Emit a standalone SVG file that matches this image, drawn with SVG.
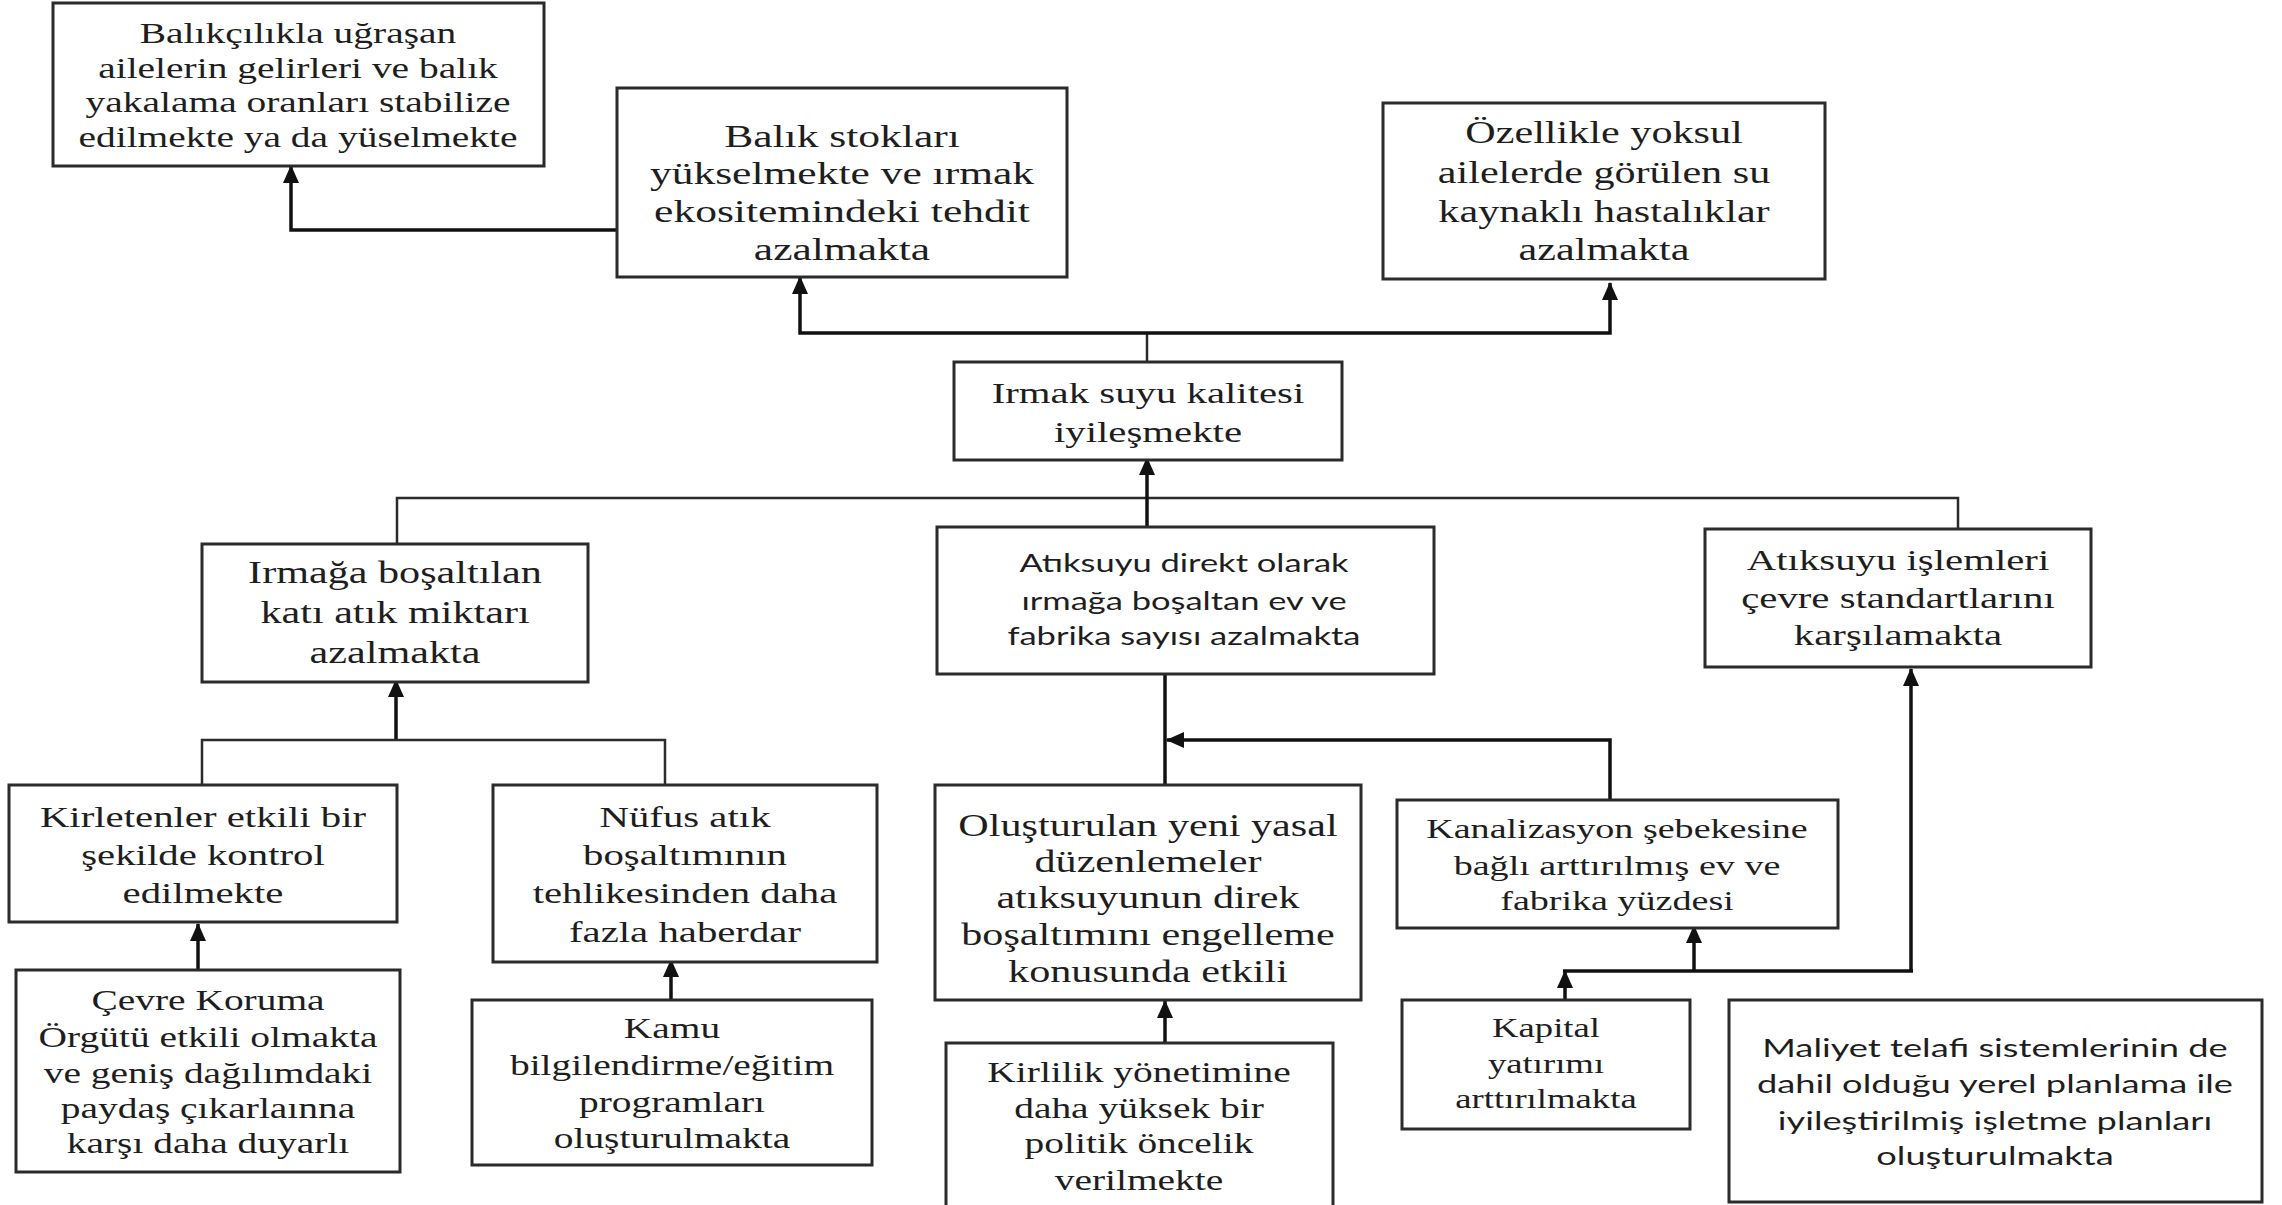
<svg xmlns="http://www.w3.org/2000/svg" width="2282" height="1205" viewBox="0 0 2282 1205">
<style>
.box{fill:#fff;stroke:#2b2b2b;stroke-width:3}
.t{font-family:"Liberation Serif","Times New Roman",serif;fill:#1e1e1e;text-anchor:middle}
.s{font-family:Lato,"Liberation Sans",Arial,sans-serif;fill:#1e1e1e;text-anchor:middle}
.ln{fill:none;stroke:#2b2b2b;stroke-width:2.5}
.ar{fill:none;stroke:#111;stroke-width:3.5}
</style>
<defs>
<marker id="ah" markerUnits="userSpaceOnUse" markerWidth="18" markerHeight="18" viewBox="0 0 18 18" refX="17" refY="9" orient="auto">
<path d="M0,1 L18,9 L0,17 Z" fill="#111"/>
</marker>
</defs>
<rect width="2282" height="1205" fill="#fff"/>

<g id="connectors">
<polyline class="ar" points="617,230 291,230 291,166" marker-end="url(#ah)"/>
<line class="ln" x1="1147" y1="362" x2="1147" y2="333"/>
<polyline class="ar" points="1147,333 800,333 800,277" marker-end="url(#ah)"/>
<polyline class="ar" points="1147,333 1610,333 1610,283" marker-end="url(#ah)"/>
<polyline class="ln" points="397,544 397,498 1958,498 1958,529"/>
<line class="ar" x1="1147" y1="527" x2="1147" y2="458" marker-end="url(#ah)"/>
<line class="ar" x1="396" y1="740" x2="396" y2="680" marker-end="url(#ah)"/>
<polyline class="ln" points="202,785 202,740 665,740 665,785"/>
<line class="ar" x1="1165" y1="674" x2="1165" y2="785"/>
<polyline class="ar" points="1610,800 1610,740 1167,740" marker-end="url(#ah)"/>
<line class="ar" x1="198" y1="970" x2="198" y2="924" marker-end="url(#ah)"/>
<line class="ar" x1="671" y1="1000" x2="671" y2="960" marker-end="url(#ah)"/>
<line class="ar" x1="1165" y1="1043" x2="1165" y2="1001" marker-end="url(#ah)"/>
<line class="ar" x1="1565" y1="1000" x2="1565" y2="971" marker-end="url(#ah)"/>
<line class="ar" x1="1563" y1="971" x2="1913" y2="971"/>
<line class="ar" x1="1694" y1="971" x2="1694" y2="926" marker-end="url(#ah)"/>
<line class="ar" x1="1911" y1="971" x2="1911" y2="669" marker-end="url(#ah)"/>
</g>

<g id="nA">
<rect class="box" x="53" y="3" width="491" height="163"/>
<text class="t" font-size="29" transform="translate(298 0) scale(1.36 1)"><tspan x="0" y="43">Balıkçılıkla uğraşan</tspan><tspan x="0" y="78">ailelerin gelirleri ve balık</tspan><tspan x="0" y="112">yakalama oranları stabilize</tspan><tspan x="0" y="147">edilmekte ya da yüselmekte</tspan></text>
</g>
<g id="nB">
<rect class="box" x="617" y="88" width="450" height="189"/>
<text class="t" font-size="32" transform="translate(842 0) scale(1.36 1)"><tspan x="0" y="147">Balık stokları</tspan><tspan x="0" y="184">yükselmekte ve ırmak</tspan><tspan x="0" y="222">ekositemindeki tehdit</tspan><tspan x="0" y="260">azalmakta</tspan></text>
</g>
<g id="nC">
<rect class="box" x="1383" y="103" width="442" height="176"/>
<text class="t" font-size="31" transform="translate(1604 0) scale(1.36 1)"><tspan x="0" y="143">Özellikle yoksul</tspan><tspan x="0" y="183">ailelerde görülen su</tspan><tspan x="0" y="222">kaynaklı hastalıklar</tspan><tspan x="0" y="260">azalmakta</tspan></text>
</g>
<g id="nD">
<rect class="box" x="954" y="362" width="388" height="98"/>
<text class="t" font-size="30" transform="translate(1148 0) scale(1.36 1)"><tspan x="0" y="403">Irmak suyu kalitesi</tspan><tspan x="0" y="442">iyileşmekte</tspan></text>
</g>
<g id="nE">
<rect class="box" x="202" y="544" width="386" height="138"/>
<text class="t" font-size="31" transform="translate(395 0) scale(1.36 1)"><tspan x="0" y="583">Irmağa boşaltılan</tspan><tspan x="0" y="623">katı atık miktarı</tspan><tspan x="0" y="663">azalmakta</tspan></text>
</g>
<g id="nF">
<rect class="box" x="937" y="527" width="497" height="147"/>
<text class="s" font-size="25" transform="translate(1184 0) scale(1.38 1)"><tspan x="0" y="572">Atıksuyu direkt olarak</tspan><tspan x="0" y="610">ırmağa boşaltan ev ve</tspan><tspan x="0" y="645">fabrika sayısı azalmakta</tspan></text>
</g>
<g id="nJ">
<rect class="box" x="1705" y="529" width="386" height="138"/>
<text class="t" font-size="30" transform="translate(1898 0) scale(1.36 1)"><tspan x="0" y="570">Atıksuyu işlemleri</tspan><tspan x="0" y="608">çevre standartlarını</tspan><tspan x="0" y="645">karşılamakta</tspan></text>
</g>
<g id="nG">
<rect class="box" x="9" y="785" width="388" height="137"/>
<text class="t" font-size="30" transform="translate(203 0) scale(1.36 1)"><tspan x="0" y="827">Kirletenler etkili bir</tspan><tspan x="0" y="865">şekilde kontrol</tspan><tspan x="0" y="903">edilmekte</tspan></text>
</g>
<g id="nH">
<rect class="box" x="493" y="785" width="384" height="177"/>
<text class="t" font-size="30" transform="translate(685 0) scale(1.36 1)"><tspan x="0" y="827">Nüfus atık</tspan><tspan x="0" y="865">boşaltımının</tspan><tspan x="0" y="903">tehlikesinden daha</tspan><tspan x="0" y="942">fazla haberdar</tspan></text>
</g>
<g id="nI">
<rect class="box" x="935" y="785" width="426" height="215"/>
<text class="t" font-size="31" transform="translate(1148 0) scale(1.36 1)"><tspan x="0" y="836">Oluşturulan yeni yasal</tspan><tspan x="0" y="872">düzenlemeler</tspan><tspan x="0" y="908">atıksuyunun direk</tspan><tspan x="0" y="945">boşaltımını engelleme</tspan><tspan x="0" y="982">konusunda etkili</tspan></text>
</g>
<g id="nK">
<rect class="box" x="1397" y="800" width="441" height="128"/>
<text class="t" font-size="28" transform="translate(1617 0) scale(1.36 1)"><tspan x="0" y="838">Kanalizasyon şebekesine</tspan><tspan x="0" y="875">bağlı arttırılmış ev ve</tspan><tspan x="0" y="910">fabrika yüzdesi</tspan></text>
</g>
<g id="nL">
<rect class="box" x="16" y="970" width="384" height="202"/>
<text class="t" font-size="29" transform="translate(208 0) scale(1.36 1)"><tspan x="0" y="1010">Çevre Koruma</tspan><tspan x="0" y="1047">Örgütü etkili olmakta</tspan><tspan x="0" y="1083">ve geniş dağılımdaki</tspan><tspan x="0" y="1118">paydaş çıkarlaınna</tspan><tspan x="0" y="1153">karşı daha duyarlı</tspan></text>
</g>
<g id="nM">
<rect class="box" x="472" y="1000" width="400" height="165"/>
<text class="t" font-size="29" transform="translate(672 0) scale(1.36 1)"><tspan x="0" y="1038">Kamu</tspan><tspan x="0" y="1075">bilgilendirme/eğitim</tspan><tspan x="0" y="1112">programları</tspan><tspan x="0" y="1148">oluşturulmakta</tspan></text>
</g>
<g id="nN">
<rect class="box" x="946" y="1043" width="387" height="170"/>
<text class="t" font-size="29" transform="translate(1139 0) scale(1.36 1)"><tspan x="0" y="1082">Kirlilik yönetimine</tspan><tspan x="0" y="1118">daha yüksek bir</tspan><tspan x="0" y="1153">politik öncelik</tspan><tspan x="0" y="1190">verilmekte</tspan></text>
</g>
<g id="nO">
<rect class="box" x="1402" y="1000" width="288" height="129"/>
<text class="t" font-size="27" transform="translate(1546 0) scale(1.36 1)"><tspan x="0" y="1037">Kapital</tspan><tspan x="0" y="1073">yatırımı</tspan><tspan x="0" y="1108">arttırılmakta</tspan></text>
</g>
<g id="nP">
<rect class="box" x="1729" y="1000" width="533" height="202"/>
<text class="s" font-size="25" transform="translate(1995 0) scale(1.45 1)"><tspan x="0" y="1057">Maliyet telafi sistemlerinin de</tspan><tspan x="0" y="1093">dahil olduğu yerel planlama ile</tspan><tspan x="0" y="1130">iyileştirilmiş işletme planları</tspan><tspan x="0" y="1165">oluşturulmakta</tspan></text>
</g>
</svg>
